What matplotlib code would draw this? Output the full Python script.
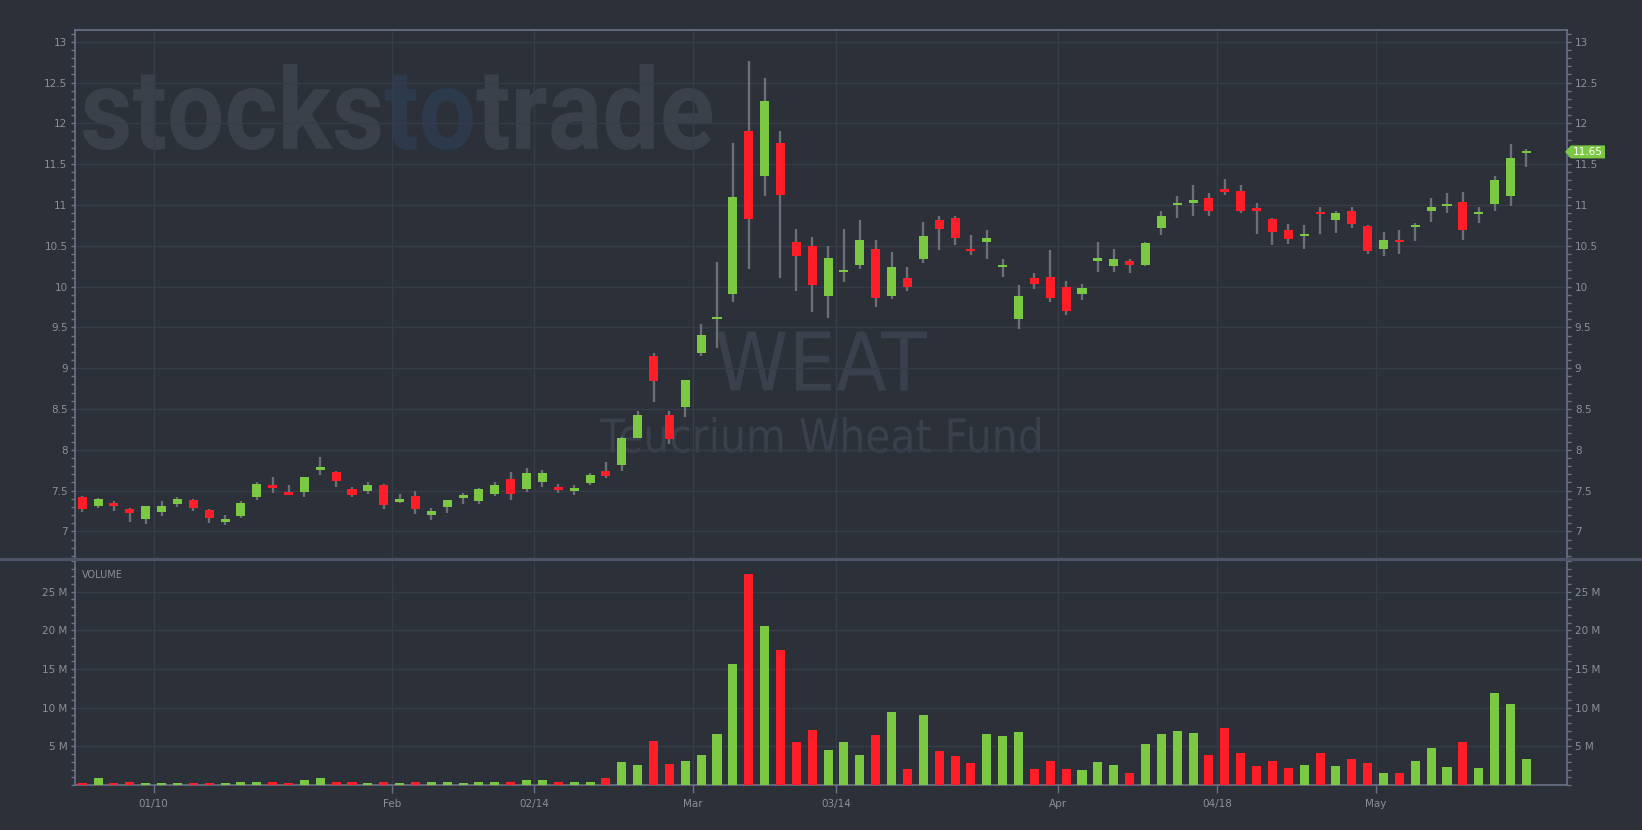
import numpy as np
import matplotlib
matplotlib.use("Agg")
import matplotlib.pyplot as plt
from matplotlib.ticker import MultipleLocator, FuncFormatter
from matplotlib.textpath import TextPath
from matplotlib.path import Path
from matplotlib.patches import PathPatch, Polygon
from matplotlib.font_manager import FontProperties
from matplotlib.transforms import Affine2D, IdentityTransform
from matplotlib.lines import Line2D

# WEAT daily bars, 2022-01-03 .. 2022-05-13 (one entry per trading day)
opens = [7.42, 7.31, 7.335, 7.27, 7.15, 7.24, 7.33, 7.38, 7.26, 7.13,
         7.19, 7.42, 7.57, 7.47, 7.48, 7.75, 7.73, 7.52, 7.49, 7.57,
         7.36, 7.43, 7.20, 7.30, 7.425, 7.37, 7.46, 7.64, 7.52, 7.60,
         7.54, 7.51, 7.59, 7.74, 7.81, 8.15, 9.15, 8.42, 8.53, 9.19,
         9.61, 9.91, 11.91, 11.35, 11.76, 10.55, 10.50, 9.89, 10.19, 10.26,
         10.46, 9.89, 10.11, 10.34, 10.82, 10.84, 10.455, 10.55, 10.25, 9.60,
         10.10, 10.12, 10.00, 9.91, 10.33, 10.25, 10.31, 10.26, 10.72, 11.01,
         11.02, 11.09, 11.20, 11.17, 10.96, 10.83, 10.69, 10.63, 10.905, 10.81,
         10.93, 10.74, 10.46, 10.57, 10.74, 10.93, 11.00, 11.03, 10.90, 11.01,
         11.11, 11.645]
highs = [7.43, 7.41, 7.37, 7.29, 7.31, 7.37, 7.42, 7.40, 7.27, 7.20,
         7.37, 7.61, 7.67, 7.57, 7.67, 7.91, 7.74, 7.54, 7.60, 7.58,
         7.46, 7.49, 7.29, 7.38, 7.47, 7.53, 7.60, 7.73, 7.78, 7.75,
         7.58, 7.57, 7.71, 7.85, 8.16, 8.48, 9.18, 8.47, 8.86, 9.54,
         10.30, 11.76, 12.76, 12.56, 11.91, 10.71, 10.61, 10.50, 10.70, 10.81,
         10.57, 10.42, 10.24, 10.79, 10.87, 10.87, 10.63, 10.69, 10.34, 10.02,
         10.16, 10.45, 10.07, 10.03, 10.55, 10.46, 10.34, 10.54, 10.93, 11.11,
         11.24, 11.15, 11.32, 11.25, 11.02, 10.84, 10.77, 10.76, 10.97, 10.93,
         10.97, 10.75, 10.67, 10.69, 10.78, 11.09, 11.15, 11.16, 10.97, 11.36,
         11.75, 11.68]
lows = [7.24, 7.29, 7.25, 7.12, 7.09, 7.19, 7.30, 7.25, 7.10, 7.08,
        7.16, 7.39, 7.47, 7.44, 7.42, 7.69, 7.54, 7.42, 7.46, 7.28,
        7.35, 7.21, 7.14, 7.22, 7.33, 7.34, 7.43, 7.39, 7.48, 7.54,
        7.47, 7.44, 7.57, 7.65, 7.74, 8.14, 8.59, 8.07, 8.40, 9.15,
        9.25, 9.81, 10.21, 11.11, 10.11, 9.95, 9.69, 9.62, 10.06, 10.22,
        9.75, 9.85, 9.94, 10.29, 10.45, 10.51, 10.39, 10.34, 10.12, 9.48,
        9.97, 9.81, 9.65, 9.83, 10.18, 10.18, 10.16, 10.25, 10.63, 10.84,
        10.86, 10.86, 11.12, 10.90, 10.64, 10.51, 10.52, 10.46, 10.65, 10.66,
        10.72, 10.40, 10.38, 10.40, 10.56, 10.79, 10.90, 10.57, 10.78, 10.92,
        10.99, 11.46]
closes = [7.28, 7.40, 7.325, 7.22, 7.31, 7.31, 7.40, 7.29, 7.16, 7.135,
          7.35, 7.58, 7.53, 7.46, 7.67, 7.79, 7.62, 7.44, 7.57, 7.32,
          7.40, 7.27, 7.25, 7.38, 7.43, 7.52, 7.57, 7.46, 7.71, 7.71,
          7.51, 7.515, 7.69, 7.68, 8.14, 8.42, 8.84, 8.13, 8.86, 9.41,
          9.615, 11.10, 10.83, 12.27, 11.12, 10.38, 10.02, 10.35, 10.195, 10.57,
          9.86, 10.24, 10.00, 10.62, 10.70, 10.60, 10.445, 10.60, 10.255, 9.88,
          10.03, 9.86, 9.70, 9.98, 10.335, 10.34, 10.26, 10.53, 10.86, 11.015,
          11.06, 10.92, 11.16, 10.93, 10.92, 10.67, 10.58, 10.635, 10.90, 10.90,
          10.77, 10.43, 10.57, 10.54, 10.745, 10.98, 11.005, 10.69, 10.905, 11.30,
          11.58, 11.65]
volume_m = [0.2, 0.85, 0.2, 0.33, 0.2, 0.2, 0.2, 0.2, 0.2, 0.2,
            0.33, 0.33, 0.33, 0.2, 0.6, 0.85, 0.33, 0.33, 0.2, 0.45,
            0.2, 0.33, 0.33, 0.33, 0.2, 0.33, 0.33, 0.45, 0.6, 0.6,
            0.33, 0.33, 0.45, 0.85, 3.0, 2.55, 5.75, 2.7, 3.15, 3.85,
            6.55, 15.7, 27.3, 20.5, 17.5, 5.5, 7.05, 4.5, 5.6, 3.85,
            6.5, 9.5, 2.05, 9.0, 4.45, 3.7, 2.8, 6.55, 6.3, 6.8,
            2.05, 3.05, 2.05, 1.95, 2.95, 2.55, 1.5, 5.25, 6.55, 6.95,
            6.7, 3.85, 7.35, 4.1, 2.4, 3.1, 2.15, 2.65, 4.1, 2.4,
            3.35, 2.8, 1.5, 1.5, 3.05, 4.75, 2.3, 5.5, 2.15, 11.85,
            10.45, 3.3]
# first trading day of each labelled period (bar index)
date_idx = [5, 20, 29, 39, 48, 62, 72, 82]
date_labels = ["01/10", "Feb", "02/14", "Mar", "03/14", "Apr", "04/18", "May"]
last_price = 11.65

bg = "#2b3039"
grid_c = "#363c48"
spine_c = "#6a7286"
sep_c = "#4d5466"
label_c = "#8c8f96"
green = "#7bc943"
red = "#ff1e28"
wick_c = "#6c6f75"

W, H = 1642, 830
fig = plt.figure(figsize=(W / 100, H / 100), dpi=100, facecolor=bg)


def frac(x0, y0, x1, y1):
    return [x0 / W, 1 - y1 / H, (x1 - x0) / W, (y1 - y0) / H]


ax = fig.add_axes(frac(75.3, 30.3, 1567, 557.5), facecolor=bg)
axv = fig.add_axes(frac(75.3, 559, 1567, 785), facecolor=bg)

o = np.array(opens)
hi = np.array(highs)
lo = np.array(lows)
c = np.array(closes)
x = np.arange(len(o))
cols = np.where(c >= o, green, red)

# candles
ax.vlines(x, lo, hi, color=wick_c, lw=1.7, zorder=2)
body_h = np.abs(c - o)
min_h = 0.03
mid = (o + c) / 2
bot = np.where(body_h < min_h, mid - min_h / 2, np.minimum(o, c))
body_h = np.maximum(body_h, min_h)
ax.bar(x, body_h, width=0.57, bottom=bot, color=cols, lw=0, zorder=3)

# volume
axv.bar(x, volume_m, width=0.57, color=cols, lw=0, zorder=3)

xlim = (-0.435, 93.56)
for a in (ax, axv):
    a.set_xlim(*xlim)
    a.set_axisbelow(True)
    a.grid(True, which="major", color=grid_c, lw=1)
    a.set_xticks([i - 0.5 for i in date_idx])
    for s in a.spines.values():
        s.set_color(spine_c)
        s.set_linewidth(1.2)
    a.tick_params(axis="y", which="both", left=True, right=True,
                  labelleft=True, labelright=True, direction="out",
                  length=3, width=1, color=spine_c, labelcolor=label_c,
                  labelsize=7.5, pad=2.6)

ax.set_ylim(6.68, 13.14)
ax.yaxis.set_major_locator(MultipleLocator(0.5))
ax.yaxis.set_minor_locator(MultipleLocator(0.1))
ax.yaxis.set_major_formatter(FuncFormatter(lambda v, p: f"{v:g}"))
ax.tick_params(axis="x", which="both", length=0, labelbottom=False)
ax.spines["bottom"].set_visible(False)

axv.set_ylim(0, 29.23)
axv.yaxis.set_major_locator(MultipleLocator(5))
axv.yaxis.set_minor_locator(MultipleLocator(1))
axv.yaxis.set_major_formatter(FuncFormatter(lambda v, p: "" if v < 1 else f"{v:.0f} M"))
axv.set_xticklabels(date_labels)
axv.tick_params(axis="x", direction="out", length=6, width=1, color=spine_c,
                labelcolor=label_c, labelsize=7.5, pad=4)
axv.spines["top"].set_visible(False)

# separator between panels
fig.add_artist(Line2D([0, 1], [1 - 558.5 / H] * 2, transform=fig.transFigure,
                      color=sep_c, lw=2.3))

fig.text(82 / W, 1 - 575 / H, "VOLUME", ha="left", va="center",
         fontsize=7, color=label_c)


# watermark texts, fitted into pixel boxes
def fit(path, x0, x1, ytop, ybot):
    e = path.get_extents()
    sx = (x1 - x0) / e.width
    sy = (ybot - ytop) / e.height
    return Affine2D().translate(-e.x0, -e.y0).scale(sx, sy).translate(x0, H - ybot)


def add_path(p, color):
    ax.add_patch(PathPatch(p, fc=color, ec="none", transform=IdentityTransform(),
                           zorder=0.2))


fp_wm = FontProperties(family="Roboto", weight="bold", size=100)
full = TextPath((0, 0), "stockstotrade", prop=fp_wm)
tr = fit(full, 83, 712, 64, 150)
n1 = len(TextPath((0, 0), "stocks", prop=fp_wm).vertices)
n2 = len(TextPath((0, 0), "stocksto", prop=fp_wm).vertices)
v, cd = full.vertices, full.codes
for a, b, colr in [(0, n1, "#3b414a"), (n1, n2, "#2d3a4c"), (n2, len(v), "#3b414a")]:
    add_path(tr.transform_path(Path(v[a:b], cd[a:b])), colr)

fp_dv = FontProperties(family="DejaVu Sans", size=100)
p = TextPath((0, 0), "WEAT", prop=fp_dv)
add_path(fit(p, 717, 927, 331.5, 390.5).transform_path(p), "#3a414c")
p = TextPath((0, 0), "Teucrium Wheat Fund", prop=fp_dv)
add_path(fit(p, 600, 1040, 417, 453).transform_path(p), "#3a414c")

# last price tag on the right axis
xr, yp = ax.transData.transform((xlim[1], last_price))
tag = [(xr - 2, yp), (xr + 4, yp + 6.5), (xr + 38, yp + 6.5),
       (xr + 38, yp - 6.5), (xr + 4, yp - 6.5)]
fig.add_artist(Polygon(tag, closed=True, fc=green, ec="none",
                       transform=IdentityTransform()))
fig.text((xr + 21) / W, yp / H, f"{last_price:.2f}", ha="center", va="center",
         fontsize=7.5, color="white")

fig.savefig("out.png", dpi=100, facecolor=bg)
